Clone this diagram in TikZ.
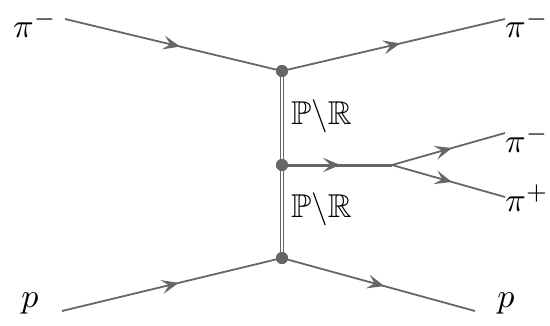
\documentclass[tikz,border=0pt]{standalone}
\usepackage{amssymb}
\usetikzlibrary{arrows.meta,decorations.markings}
\definecolor{lc}{RGB}{102,102,102}
\newcommand{\biglbl}[1]{\scalebox{3.4}{#1}}
\newcommand{\midlbl}[1]{\scalebox{3.3}{#1}}
\tikzset{
  fermion/.style={draw=lc,line width=1.8pt,postaction={decorate},
    decoration={markings,mark=at position 0.53 with {\arrow[lc]{Stealth[length=17pt,width=14pt,inset=7pt]}}}},
  thickline/.style={fermion,line width=3pt},
  pomeron/.style={draw=lc,double=white,double distance=2pt,line width=1.3pt},
  vtx/.style={circle,fill=lc,inner sep=0pt,minimum size=12pt},
  lbl/.style={inner sep=0pt}
}
\begin{document}
\begin{tikzpicture}[x=1pt,y=-1pt]
\useasboundingbox (0,0) rectangle (550,325);
\coordinate (tl) at (65,19);
\coordinate (tr) at (505,19);
\coordinate (bl) at (62,311);
\coordinate (br) at (475,311);
\coordinate (split) at (392,165);
\coordinate (m1) at (505,133);
\coordinate (m2) at (505,197);
\node[vtx] (vt) at (282,71) {};
\node[vtx] (vm) at (282,165) {};
\node[vtx] (vb) at (282,258) {};
\draw[pomeron] (vt.center) -- (vm.center);
\draw[pomeron] (vm.center) -- (vb.center);
\draw[fermion] (tl) -- (vt.center);
\draw[fermion] (vt.center) -- (tr);
\draw[fermion] (bl) -- (vb.center);
\draw[fermion] (vb.center) -- (br);
\draw[thickline] (vm.center) -- (split);
\draw[fermion] (split) -- (m1);
\draw[fermion] (split) -- (m2);
\node[vtx] at (vt) {};
\node[vtx] at (vm) {};
\node[vtx] at (vb) {};
\node[lbl] (l1) at (35,24) {\biglbl{$\pi^-$}};
\node[lbl] (l2) at (527,24) {\biglbl{$\pi^-$}};
\node[lbl] (l3) at (527,139) {\biglbl{$\pi^-$}};
\node[lbl] (l4) at (527,198) {\biglbl{$\pi^+$}};
\node[lbl] (l5) at (30,303) {\biglbl{$p$}};
\node[lbl] (l6) at (506,303) {\biglbl{$p$}};
\node[lbl,anchor=west] (r1) at (291,116) {\midlbl{$\mathbb{P}\backslash\mathbb{R}$}};
\node[lbl,anchor=west] (r2) at (291,209) {\midlbl{$\mathbb{P}\backslash\mathbb{R}$}};
\end{tikzpicture}
\end{document}
